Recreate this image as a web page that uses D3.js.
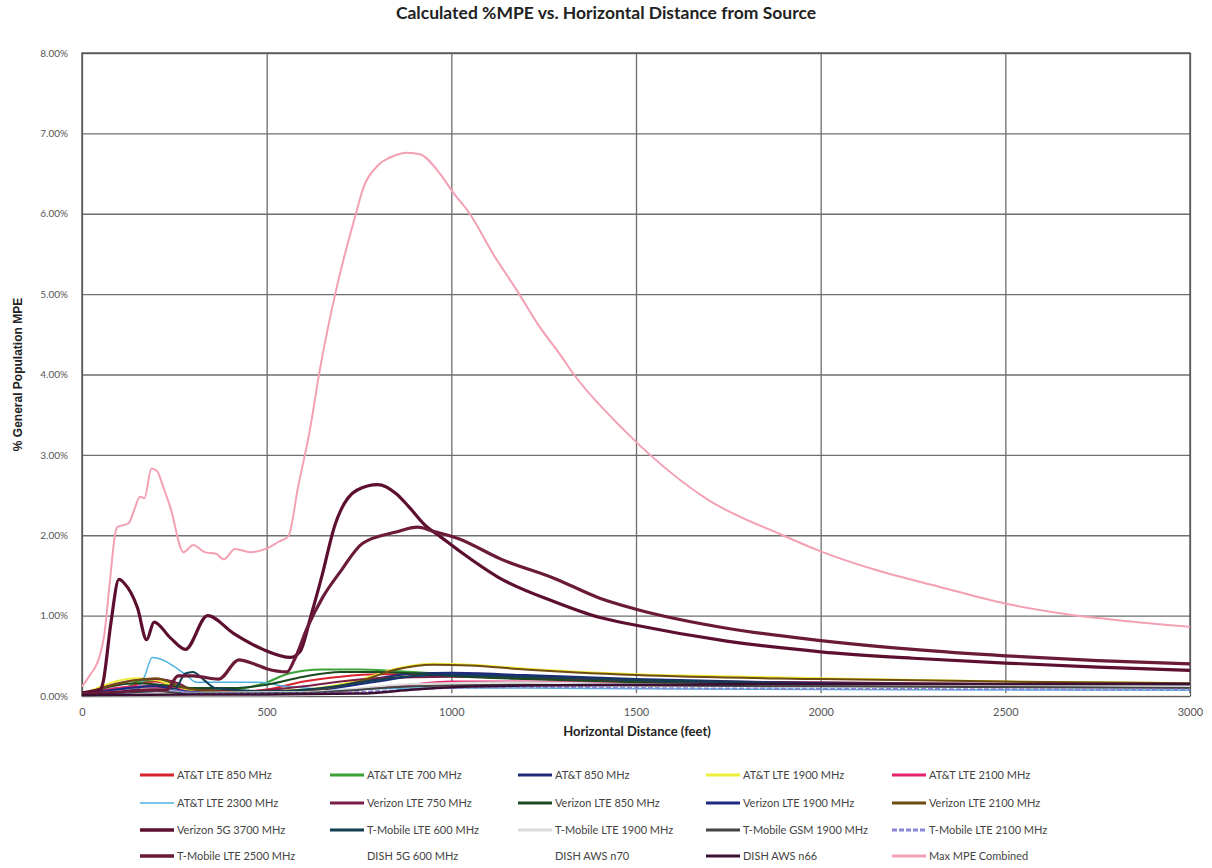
<!DOCTYPE html>
<html>
<head>
<meta charset="utf-8">
<script src="https://cdn.jsdelivr.net/npm/d3@7"></script>
<style>
  body { margin: 0; background: #fff; }
  svg { display: block; }
  .tick text { fill: #555; font-family: Lato, "Open Sans", sans-serif; }
</style>
</head>
<body>
<div id="chart"></div>
<script>
// series names (legend order)
const seriesNames = [
  'AT&T LTE 850 MHz', 'AT&T LTE 700 MHz', 'AT&T 850 MHz', 'AT&T LTE 1900 MHz', 'AT&T LTE 2100 MHz',
  'AT&T LTE 2300 MHz', 'Verizon LTE 750 MHz', 'Verizon LTE 850 MHz', 'Verizon LTE 1900 MHz', 'Verizon LTE 2100 MHz',
  'Verizon 5G 3700 MHz', 'T-Mobile LTE 600 MHz', 'T-Mobile LTE 1900 MHz', 'T-Mobile GSM 1900 MHz', 'T-Mobile LTE 2100 MHz',
  'T-Mobile LTE 2500 MHz', 'DISH 5G 600 MHz', 'DISH AWS n70', 'DISH AWS n66', 'Max MPE Combined'
];

// [distance ft, % MPE]
const attLte850 = [[0,0.03],[100,0.06],[150,0.15],[200,0.18],[250,0.12],[300,0.06],[400,0.05],[500,0.08],[600,0.18],[700,0.24],[800,0.27],[900,0.27],[1000,0.25],[1200,0.22],[1500,0.18],[2000,0.15],[2500,0.14],[3000,0.13]];
const attLte700 = [[0,0.02],[100,0.05],[150,0.18],[200,0.2],[260,0.15],[300,0.08],[400,0.08],[500,0.17],[560,0.28],[650,0.33],[750,0.33],[850,0.31],[1000,0.27],[1200,0.22],[1500,0.17],[2000,0.13],[2500,0.12],[3000,0.11]];
const att850 = [[0,0.02],[150,0.1],[200,0.14],[280,0.06],[400,0.04],[600,0.06],[700,0.12],[800,0.22],[900,0.28],[1000,0.29],[1200,0.26],[1500,0.21],[2000,0.16],[2500,0.13],[3000,0.12]];
const attLte1900 = [[0,0.02],[150,0.22],[200,0.2],[280,0.08],[400,0.05],[600,0.08],[750,0.2],[850,0.34],[950,0.4],[1050,0.39],[1200,0.34],[1500,0.27],[1800,0.24],[2000,0.22],[2500,0.18],[3000,0.16]];
const attLte2100 = [[0,0.02],[150,0.12],[250,0.1],[300,0.04],[500,0.03],[700,0.06],[850,0.12],[1000,0.18],[1200,0.18],[1500,0.16],[2000,0.14],[3000,0.12]];
const attLte2300 = [[0,0.02],[150,0.1],[170,0.25],[190,0.48],[280,0.27],[310,0.17],[400,0.17],[480,0.17],[550,0.12],[700,0.08],[900,0.1],[1200,0.1],[1500,0.09],[2000,0.08],[3000,0.07]];
const vzLte750 = [[0,0.02],[150,0.2],[200,0.21],[260,0.16],[300,0.08],[450,0.06],[600,0.12],[700,0.18],[800,0.22],[1000,0.24],[1200,0.22],[1500,0.19],[2000,0.17],[2500,0.15],[3000,0.14]];
const vzLte850 = [[0,0.02],[150,0.16],[250,0.12],[300,0.1],[420,0.1],[500,0.14],[600,0.24],[700,0.3],[800,0.3],[900,0.28],[1000,0.25],[1200,0.21],[1500,0.17],[2000,0.14],[3000,0.12]];
const vzLte1900 = [[0,0.02],[200,0.12],[300,0.05],[500,0.04],[650,0.08],[800,0.18],[900,0.25],[1000,0.27],[1200,0.25],[1500,0.2],[2000,0.16],[2500,0.14],[3000,0.13]];
const vzLte2100 = [[0,0.02],[150,0.2],[200,0.22],[280,0.1],[400,0.05],[600,0.07],[750,0.18],[850,0.33],[950,0.39],[1050,0.38],[1200,0.33],[1500,0.26],[2000,0.21],[2500,0.18],[3000,0.16]];
const vz5g3700 = [[0,0.04],[30,0.06],[50,0.08],[57,0.17],[78,0.9],[100,1.45],[115,1.4],[150,1.1],[175,0.7],[195,0.92],[240,0.72],[280,0.58],[340,1.0],[410,0.78],[490,0.58],[565,0.48],[590,0.55],[620,1.0],[650,1.5],[683,2.1],[744,2.56],[801,2.63],[850,2.52],[884,2.36],[930,2.12],[971,1.98],[1023,1.8],[1126,1.48],[1281,1.17],[1400,0.98],[1500,0.88],[1750,0.68],[2000,0.55],[2250,0.47],[2500,0.41],[2750,0.36],[3000,0.32]];
const tmLte600 = [[0,0.02],[100,0.04],[250,0.08],[280,0.28],[300,0.3],[330,0.2],[360,0.1],[500,0.06],[650,0.1],[800,0.2],[950,0.26],[1100,0.25],[1500,0.2],[2000,0.15],[3000,0.12]];
const tmLte1900 = [[0,0.01],[200,0.08],[300,0.04],[600,0.05],[900,0.15],[1200,0.17],[1500,0.15],[2000,0.14],[3000,0.12]];
const tmGsm1900 = [[0,0.01],[200,0.06],[300,0.03],[600,0.04],[900,0.12],[1200,0.14],[1500,0.13],[2000,0.12],[3000,0.1]];
const tmLte2100 = [[0,0.01],[100,0.02],[150,0.07],[250,0.07],[300,0.03],[600,0.03],[800,0.06],[1000,0.1],[1300,0.11],[1500,0.1],[2000,0.09],[3000,0.08]];
const tmLte2500 = [[0,0.03],[100,0.05],[150,0.07],[230,0.08],[260,0.25],[300,0.25],[370,0.21],[425,0.45],[465,0.4],[500,0.34],[555,0.3],[575,0.45],[610,0.85],[652,1.23],[700,1.55],[760,1.9],[850,2.04],[909,2.1],[951,2.05],[1018,1.96],[1136,1.7],[1281,1.46],[1400,1.22],[1500,1.08],[1750,0.84],[2000,0.69],[2250,0.58],[2500,0.5],[2750,0.44],[3000,0.4]];
const dish5g600 = [[0,0.01],[500,0.01],[1000,0.02],[3000,0.02]];
const dishN70 = [[0,0.01],[500,0.01],[1000,0.02],[3000,0.02]];
const dishN66 = [[0,0.01],[300,0.02],[500,0.02],[750,0.03],[900,0.08],[1000,0.11],[1200,0.13],[1500,0.14],[2000,0.15],[2500,0.15],[3000,0.15]];
const maxCombined = [[0,0.12],[20,0.25],[48,0.5],[60,0.75],[75,1.4],[90,2.02],[95,2.1],[126,2.15],[141,2.31],[157,2.48],[169,2.46],[188,2.83],[203,2.8],[220,2.6],[239,2.35],[275,1.79],[301,1.88],[332,1.79],[363,1.77],[384,1.7],[414,1.83],[456,1.79],[497,1.83],[533,1.92],[559,1.99],[585,2.6],[617,3.31],[644,4.06],[690,5.09],[744,6.04],[758,6.27],[801,6.6],[834,6.7],[882,6.76],[915,6.74],[969,6.5],[1004,6.27],[1050,6.0],[1113,5.5],[1177,5.05],[1235,4.62],[1294,4.25],[1332,4.0],[1463,3.33],[1538,3.0],[1692,2.45],[1897,2.0],[2000,1.8],[2148,1.57],[2320,1.36],[2500,1.15],[2662,1.02],[2833,0.93],[3000,0.86]];

const seriesValues = [
  attLte850, attLte700, att850, attLte1900, attLte2100,
  attLte2300, vzLte750, vzLte850, vzLte1900, vzLte2100,
  vz5g3700, tmLte600, tmLte1900, tmGsm1900, tmLte2100,
  tmLte2500, dish5g600, dishN70, dishN66, maxCombined
];

const xTicks = [0, 500, 1000, 1500, 2000, 2500, 3000];
const yTicks = [0, 1, 2, 3, 4, 5, 6, 7, 8];

// styles
const colors = [
  '#d8232c', '#3aa236', '#1f2a78', '#eded3a', '#e8226c',
  '#4eb2df', '#7a1e48', '#1b4a22', '#1c2a82', '#6e4b12',
  '#5c0f2f', '#123f52', '#dadada', '#444444', '#8a86d6',
  '#6b1a3a', '#ffffff', '#ffffff', '#3a0f32', '#f4a0b3'
];
const widths = [
  2, 2, 2, 2, 2,
  1.5, 2, 2, 2, 2,
  3.2, 2, 2, 2, 2,
  3.2, 2, 2, 2.5, 2
];
const dashes = [];
dashes[14] = '5,2';

const W = 1212, H = 868;
const M = { left: 82, right: 1190, top: 53, bottom: 696 };

const svg = d3.select('#chart').append('svg')
  .attr('width', W).attr('height', H);

const x = d3.scaleLinear().domain([0, 3000]).range([M.left, M.right]);
const y = d3.scaleLinear().domain([0, 8]).range([M.bottom, M.top]);

// title
svg.append('text')
  .attr('x', 606).attr('y', 19)
  .attr('text-anchor', 'middle')
  .style('font-family', 'Lato, "Open Sans", sans-serif')
  .style('font-weight', 'bold')
  .style('font-size', '17.5px')
  .style('fill', '#222')
  .text('Calculated %MPE vs. Horizontal Distance from Source');

// gridlines + axes
svg.append('g')
  .attr('transform', `translate(${M.left},0)`)
  .call(d3.axisLeft(y).tickValues(yTicks).tickSize(-(M.right - M.left)).tickPadding(14)
    .tickFormat(d => d.toFixed(2) + '%'))
  .call(g => g.select('.domain').remove())
  .call(g => g.selectAll('.tick line').attr('stroke', '#6e6e6e').attr('stroke-width', 1.3))
  .call(g => g.selectAll('.tick text').style('font-size', '10px'));

svg.append('g')
  .attr('transform', `translate(0,${M.bottom})`)
  .call(d3.axisBottom(x).tickValues(xTicks).tickSize(-(M.bottom - M.top)).tickPadding(12)
    .tickFormat(d3.format('d')))
  .call(g => g.select('.domain').remove())
  .call(g => g.selectAll('.tick line').attr('stroke', '#6e6e6e').attr('stroke-width', 1.3))
  .call(g => g.selectAll('.tick text').style('font-size', '11px'));

svg.append('rect')
  .attr('x', M.left).attr('y', M.top)
  .attr('width', M.right - M.left).attr('height', M.bottom - M.top)
  .attr('fill', 'none').attr('stroke', '#555').attr('stroke-width', 1.4);

// axis titles
svg.append('text')
  .attr('transform', `translate(22,${(M.top + M.bottom) / 2}) rotate(-90)`)
  .attr('text-anchor', 'middle')
  .style('font-family', '"Liberation Sans", Arial, sans-serif')
  .style('font-weight', 'bold')
  .style('font-size', '12px')
  .style('fill', '#222')
  .text('% General Population MPE');

svg.append('text')
  .attr('x', 637).attr('y', 736)
  .attr('text-anchor', 'middle')
  .style('font-family', 'Lato, "Open Sans", sans-serif')
  .style('font-weight', 'bold')
  .style('font-size', '13px')
  .style('fill', '#222')
  .text('Horizontal Distance (feet)');

// lines
const line = d3.line()
  .x(d => x(d[0]))
  .y(d => y(d[1]))
  .curve(d3.curveMonotoneX);

svg.append('g')
  .selectAll('path')
  .data(seriesValues)
  .join('path')
  .attr('d', line)
  .attr('fill', 'none')
  .attr('stroke', (d, i) => colors[i])
  .attr('stroke-width', (d, i) => widths[i])
  .attr('stroke-dasharray', (d, i) => dashes[i] || null)
  .attr('stroke-linejoin', 'round');

// legend
const colX = [140, 330, 518, 706, 892];
const rowY = [775, 803, 830, 856];
const legend = svg.append('g')
  .selectAll('g')
  .data(seriesNames)
  .join('g')
  .attr('transform', (d, i) => `translate(${colX[i % 5]},${rowY[Math.floor(i / 5)]})`);

legend.append('line')
  .attr('x1', 0).attr('x2', 34)
  .attr('stroke', (d, i) => colors[i])
  .attr('stroke-width', (d, i) => Math.max(widths[i], 2.5) + (i === 5 ? -1 : 0.5))
  .attr('stroke-dasharray', (d, i) => dashes[i] || null);

legend.append('text')
  .attr('x', 37).attr('dy', '0.35em')
  .style('font-family', 'Lato, "Open Sans", sans-serif')
  .style('font-size', '11px')
  .style('fill', '#444')
  .text(d => d);
</script>
</body>
</html>
